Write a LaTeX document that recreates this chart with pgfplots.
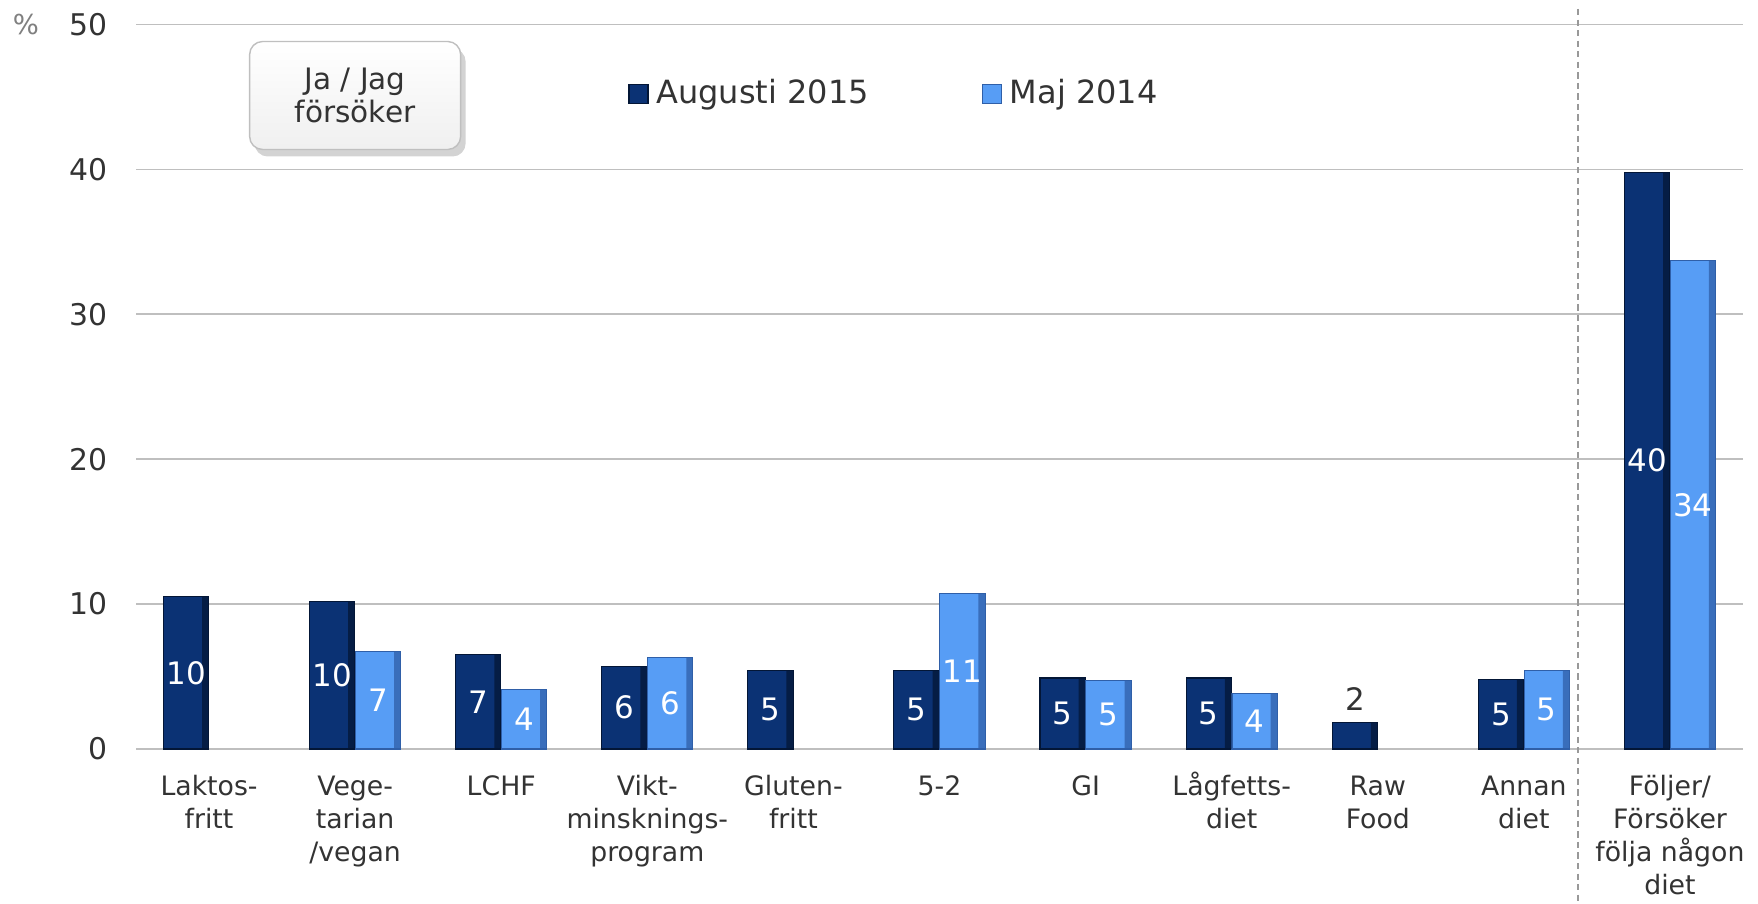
\documentclass[border=0pt]{standalone}
\usepackage{pgfplots}
\pgfplotsset{compat=1.18}
\usepackage{pgfplotstable}
\usepackage{fontspec}
\setmainfont{DejaVu Sans}
\usetikzlibrary{shadows}
\definecolor{augmid}{HTML}{0B3274}
\definecolor{augdark}{HTML}{031636}
\definecolor{majmid}{HTML}{579DF5}
\definecolor{majdark}{HTML}{2F5FA8}
\definecolor{txt}{HTML}{333333}
\definecolor{gridc}{HTML}{BFBFBF}
\newcommand{\fl}{\vphantom{Å}}

\pgfplotstableread{
x aug lab
0 10.5 10
1 10.2 10
2 6.5 7
3 5.7 6
4 5.4 5
5 5.4 5
6 4.9 5
7 4.9 5
8 1.8 {}
9 4.8 5
10 39.8 40
}\augdata

\pgfplotstableread{
x maj lab
1 6.7 7
2 4.1 4
3 6.3 6
5 10.7 11
6 4.7 5
7 3.8 4
9 5.4 5
10 33.7 34
}\majdata

\begin{document}
\begin{tikzpicture}
\useasboundingbox (0,0) rectangle (17.58cm,9.04cm);
\begin{axis}[
  at={(1.36cm,1.55cm)}, anchor=south west,
  scale only axis, width=16.07cm, height=7.245cm,
  xmin=-0.5, xmax=10.5, ymin=0, ymax=50,
  ytick={0,10,...,50},
  xtick={0,...,10},
  xticklabels={{\fl Laktos-\\fritt},{\fl Vege-\\tarian\\/vegan},{\fl LCHF},{\fl Vikt-\\minsknings-\\program},{\fl Gluten-\\fritt},{\fl 5-2},{\fl GI},{\fl Lågfetts-\\diet},{\fl Raw\\Food},{\fl Annan\\diet},{\fl Följer/\\Försöker\\följa någon\\diet}},
  xticklabel style={align=center, font=\fontsize{7.6}{9.4}\selectfont, text=txt, inner sep=0pt, yshift=-2.06mm},
  /pgf/number format/assume math mode=true,
  yticklabel style={font=\fontsize{8.5}{10}\selectfont, text=txt, inner sep=0pt, xshift=-2.8mm},
  axis line style={draw=none},
  major tick length=0pt,
  tick style={draw=none},
  ymajorgrids,
  major grid style={draw=gridc, line width=0.5pt},
  clip=false,
  ybar=0pt,
  bar width=0.31,
  legend columns=2,
  legend style={at={(rel axis cs:0.306,0.904)}, anchor=west, draw=none, fill=none,
    font=\fontsize{9.1}{11}\selectfont, text=txt, inner sep=0pt,
    nodes={inner xsep=0.8mm, inner ysep=0pt},
    /tikz/every even column/.append style={column sep=10.5mm}},
  legend image code/.code={\path[#1] (0mm,-0.95mm) rectangle (1.9mm,0.95mm);},
]
\addplot[bar shift=-0.157, draw=augdark, line width=0.3pt, fill=augmid,
  nodes near coords, point meta=explicit symbolic,
  visualization depends on={\thisrow{aug} \as \rawy},
  every node near coord/.style={anchor=center, text=white, font=\fontsize{8.8}{10}\selectfont,
    shift={(axis direction cs:-0.157,-\rawy/2)}}]
  table[x=x, y=aug, meta=lab] {\augdata};
\addlegendentry{Augusti 2015}
\addplot[bar shift=0.157, draw=majdark, line width=0.3pt, fill=majmid,
  nodes near coords, point meta=explicit symbolic,
  visualization depends on={\thisrow{maj} \as \rawy},
  every node near coord/.style={anchor=center, text=white, font=\fontsize{8.8}{10}\selectfont,
    shift={(axis direction cs:0.157,-\rawy/2)}}]
  table[x=x, y=maj, meta=lab] {\majdata};
\addlegendentry{Maj 2014}
% darker right edges of the bars (bevel effect)
\addplot[forget plot, bar shift=-0.025, bar width=0.045, draw=none, fill=augdark, fill opacity=0.75]
  table[x=x, y=aug] {\augdata};
\addplot[forget plot, bar shift=0.289, bar width=0.045, draw=none, fill=majdark, fill opacity=0.75]
  table[x=x, y=maj] {\majdata};
\addplot[forget plot, bar shift=-0.157, draw=none, fill=none,
  nodes near coords, point meta=explicit symbolic,
  every node near coord/.style={anchor=south, text=txt, font=\fontsize{8.8}{10}\selectfont,
    shift={(axis direction cs:-0.157,0)}}]
  coordinates {(8,1.8) [2]};
\draw[gray!80, line width=0.45pt, dash pattern=on 1.8pt off 1.2pt] (axis cs:9.37,51.07) -- (axis cs:9.37,-10.7);
\node[text=gray, font=\fontsize{7.8}{9}\selectfont, xshift=-11mm] at (rel axis cs:0,1) {\%};
\node[draw=gray!50, rounded corners=1.3mm, top color=white, bottom color=gray!12,
  drop shadow={shadow xshift=0.5mm, shadow yshift=-0.7mm, opacity=0.35},
  minimum width=2.11cm, minimum height=1.08cm, align=center,
  font=\fontsize{8.4}{9.3}\selectfont, text=txt] at (axis cs:1,45.1) {Ja / Jag\\försöker};
\end{axis}
\end{tikzpicture}
\end{document}
